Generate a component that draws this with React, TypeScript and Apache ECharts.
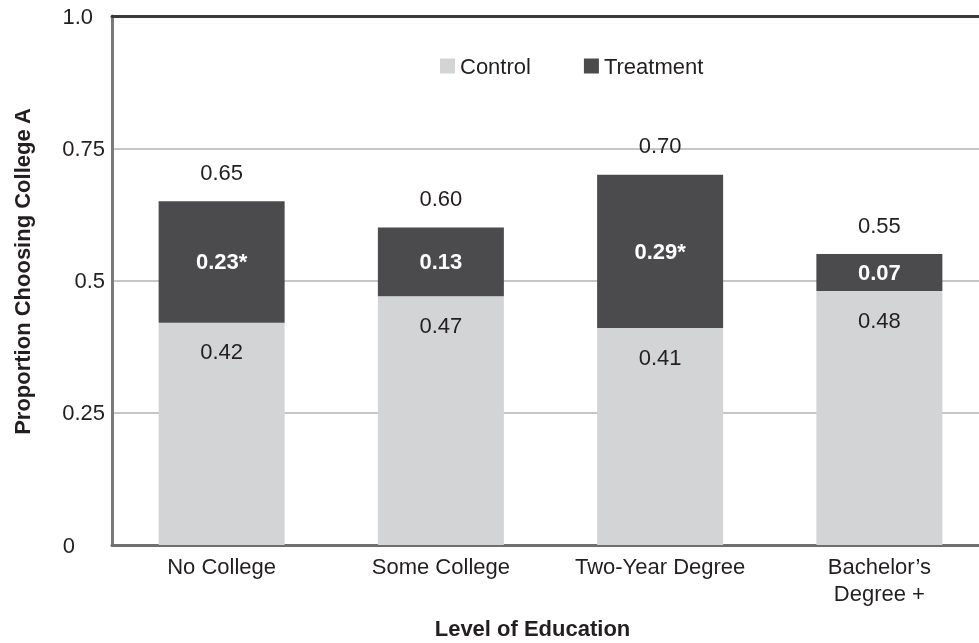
import React, { useEffect, useRef } from "react";
import * as echarts from "echarts";

const categories = ["No College", "Some College", "Two-Year Degree", "Bachelor\u2019s\nDegree +"];
const controlValues = [0.42, 0.47, 0.41, 0.48];
const treatmentValues = [0.23, 0.13, 0.29, 0.07];
const treatmentLabels = ["0.23*", "0.13", "0.29*", "0.07"];
const totalValues = [0.65, 0.6, 0.7, 0.55];
const yTickValues = [0, 0.25, 0.5, 0.75, 1];
const yTickLabels = ["0", "0.25", "0.5", "0.75", "1.0"];
const yTickStyles = ["t0", "tm", "tm", "tm", "t1"];

const FONT = "'Liberation Sans', Arial, Helvetica, sans-serif";
const TEXT = "#231f20";
const CONTROL = "#d3d4d6";
const TREATMENT = "#4b4b4d";
const FS = 22;

export default function App() {
  const ref = useRef<HTMLDivElement>(null);
  useEffect(() => {
    if (!ref.current) return;
    const chart = echarts.init(ref.current, undefined, { renderer: "svg" });
    const tickBase = { fontFamily: FONT, fontSize: FS, color: TEXT };
    chart.setOption({
      animation: false,
      textStyle: { fontFamily: FONT },
      grid: { left: 112, right: -10, top: 16, bottom: 98, containLabel: false, outerBoundsMode: "none" },
      legend: {
        data: ["Control", "Treatment"],
        left: 435,
        top: 50,
        icon: "rect",
        itemWidth: 15,
        itemHeight: 15,
        itemGap: 53,
        textStyle: { fontFamily: FONT, fontSize: FS, color: TEXT },
      },
      xAxis: [
        {
          type: "category",
          data: categories,
          position: "bottom",
          axisLine: { lineStyle: { color: "#6e6e6e", width: 3 } },
          axisTick: { show: false },
          axisLabel: { interval: 0, fontFamily: FONT, fontSize: FS, color: TEXT, margin: 8, lineHeight: 27 },
          name: "Level of Education",
          nameLocation: "middle",
          nameGap: 72,
          nameTextStyle: { fontFamily: FONT, fontSize: FS, fontWeight: "bold", color: TEXT, padding: [0, 36, 0, 0] },
        },
        {
          type: "category",
          data: categories,
          position: "top",
          axisLine: { lineStyle: { color: "#3a3a3a", width: 3 } },
          axisTick: { show: false },
          axisLabel: { show: false },
        },
      ],
      yAxis: {
        type: "value",
        min: 0,
        max: 1,
        interval: 0.25,
        axisLine: { show: true, lineStyle: { color: "#7a7a7a", width: 3 } },
        axisTick: { show: false },
        splitLine: { lineStyle: { color: "#c6c6c6", width: 2 } },
        axisLabel: {
          fontFamily: FONT,
          fontSize: FS,
          color: TEXT,
          align: "right",
          margin: 7,
          formatter: (v: number) => {
            const i = yTickValues.findIndex((t) => Math.abs(t - v) < 1e-9);
            return i >= 0 ? `{${yTickStyles[i]}|${yTickLabels[i]}}` : "";
          },
          rich: {
            tm: { ...tickBase },
            t1: { ...tickBase, padding: [0, 12, 0, 0] },
            t0: { ...tickBase, padding: [0, 30, 0, 0] },
          },
        },
        name: "Proportion Choosing College A",
        nameLocation: "middle",
        nameGap: 79,
        nameTextStyle: { fontFamily: FONT, fontSize: FS, fontWeight: "bold", color: TEXT, padding: [0, 0, 0, 18] },
      },
      series: [
        {
          name: "Control",
          type: "bar",
          stack: "total",
          barWidth: 126,
          data: controlValues,
          itemStyle: { color: CONTROL },
          label: {
            show: true,
            position: "insideTop",
            distance: 18,
            fontFamily: FONT,
            fontSize: FS,
            color: TEXT,
            formatter: (p: any) => p.value.toFixed(2),
          },
        },
        {
          name: "Treatment",
          type: "bar",
          stack: "total",
          barWidth: 126,
          data: treatmentValues,
          itemStyle: { color: TREATMENT },
          label: {
            show: true,
            position: "inside",
            fontFamily: FONT,
            fontSize: FS,
            fontWeight: "bold",
            color: "#ffffff",
            formatter: (p: any) => treatmentLabels[p.dataIndex],
          },
        },
        {
          name: "Total",
          type: "bar",
          barWidth: 126,
          barGap: "-100%",
          data: totalValues,
          itemStyle: { color: "rgba(0,0,0,0)" },
          silent: true,
          z: 1,
          label: {
            show: true,
            position: "top",
            distance: 18,
            fontFamily: FONT,
            fontSize: FS,
            color: TEXT,
            formatter: (p: any) => p.value.toFixed(2),
          },
        },
      ],
    });
    return () => chart.dispose();
  }, []);
  return <div ref={ref} style={{ width: 979, height: 643, position: "fixed", left: 0, top: 0 }} />;
}
